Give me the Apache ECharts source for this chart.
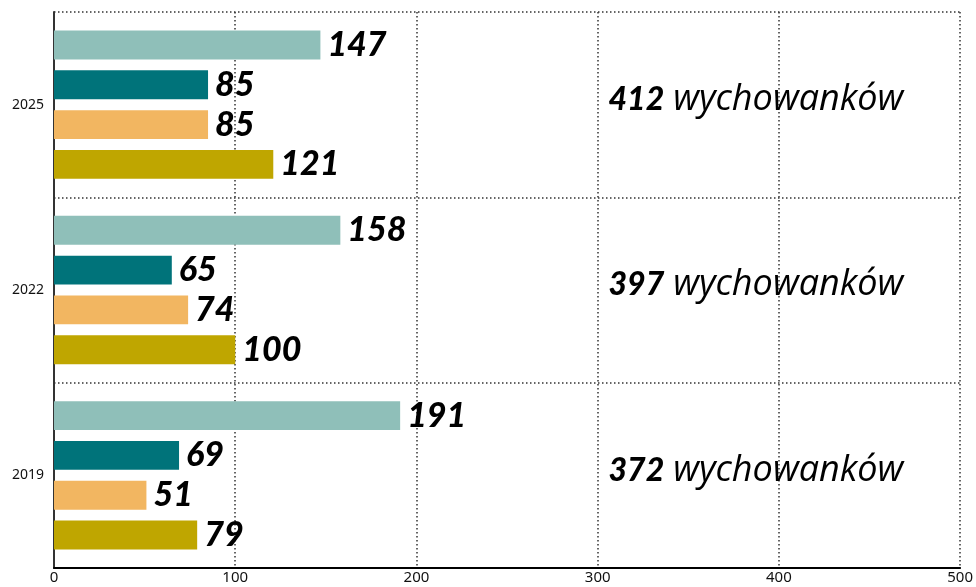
<!DOCTYPE html>
<html>
<head>
<meta charset="utf-8">
<script src="https://cdn.jsdelivr.net/npm/echarts@6/dist/echarts.min.js"></script>
<style>
html, body { margin: 0; padding: 0; background: #fff; }
#main { width: 976px; height: 587px; }
</style>
</head>
<body>
<div id="main"></div>
<script>
// kategorie (od dołu do góry)
var lata = ['2019', '2022', '2025'];
// serie - kolejność od góry grupy
var lightTeal = [191, 158, 147];
var darkTeal = [69, 65, 85];
var orange = [51, 74, 85];
var olive = [79, 100, 121];
// sumy wychowanków
var sumy = [372, 397, 412];
var xTicks = [0, 100, 200, 300, 400, 500];
var napisX = 306;

var myChart = echarts.init(document.getElementById('main'));

var etykieta = {
	show: true,
	position: 'right',
	distance: 7,
	fontFamily: 'Lato',
	fontStyle: 'italic',
	fontWeight: 900,
	fontSize: 34,
	color: '#000'
};

function seria(nazwa, dane, kolor) {
	return {
		name: nazwa,
		type: 'bar',
		data: dane,
		barCategoryGap: '20%',
		barGap: '38%',
		itemStyle: { color: kolor },
		label: etykieta
	};
}

var option = {
	animation: false,
	grid: { left: 54, right: 13, top: 12, bottom: 19 },
	xAxis: {
		type: 'value',
		min: xTicks[0],
		max: xTicks[xTicks.length - 1],
		interval: 100,
		axisLine: { show: true, lineStyle: { color: '#000', width: 2 } },
		axisTick: { show: false },
		axisLabel: { color: '#111', fontSize: 15, fontFamily: 'Noto Sans', margin: 2 },
		splitLine: { show: true, lineStyle: { color: '#333', type: [1.5, 2.5], width: 1.5 } }
	},
	yAxis: {
		type: 'category',
		data: lata,
		axisLine: { show: true, lineStyle: { color: '#333', width: 2 } },
		axisTick: { show: false },
		axisLabel: { color: '#111', fontSize: 14, fontFamily: 'Noto Sans', margin: 10 },
		splitLine: { show: true, lineStyle: { color: '#333', type: [1.5, 2.5], width: 1.5 } }
	},
	series: [
		seria('lightTeal', lightTeal, '#8fbfb9'),
		seria('darkTeal', darkTeal, '#00737a'),
		seria('orange', orange, '#f2b661'),
		seria('olive', olive, '#bfa600'),
		{
			type: 'scatter',
			symbolSize: 0,
			silent: true,
			itemStyle: { opacity: 1 },
			data: sumy.map(function(s, i) { return { value: [napisX, lata[i]], suma: s }; }),
			label: {
				show: true,
				position: 'right',
				distance: 0,
				offset: [0, -5],
				color: '#000',
				formatter: function(p) { return '{a|' + p.data.suma + '}{b|wychowanków}'; },
				rich: {
					a: { fontFamily: 'Lato', fontStyle: 'italic', fontWeight: 900, fontSize: 32, color: '#000', padding: [0, 9, 0, 0] },
					b: { fontFamily: 'Open Sans', fontStyle: 'italic', fontWeight: 'normal', fontSize: 36, color: '#000' }
				}
			}
		}
	]
};

myChart.setOption(option);
</script>
</body>
</html>
